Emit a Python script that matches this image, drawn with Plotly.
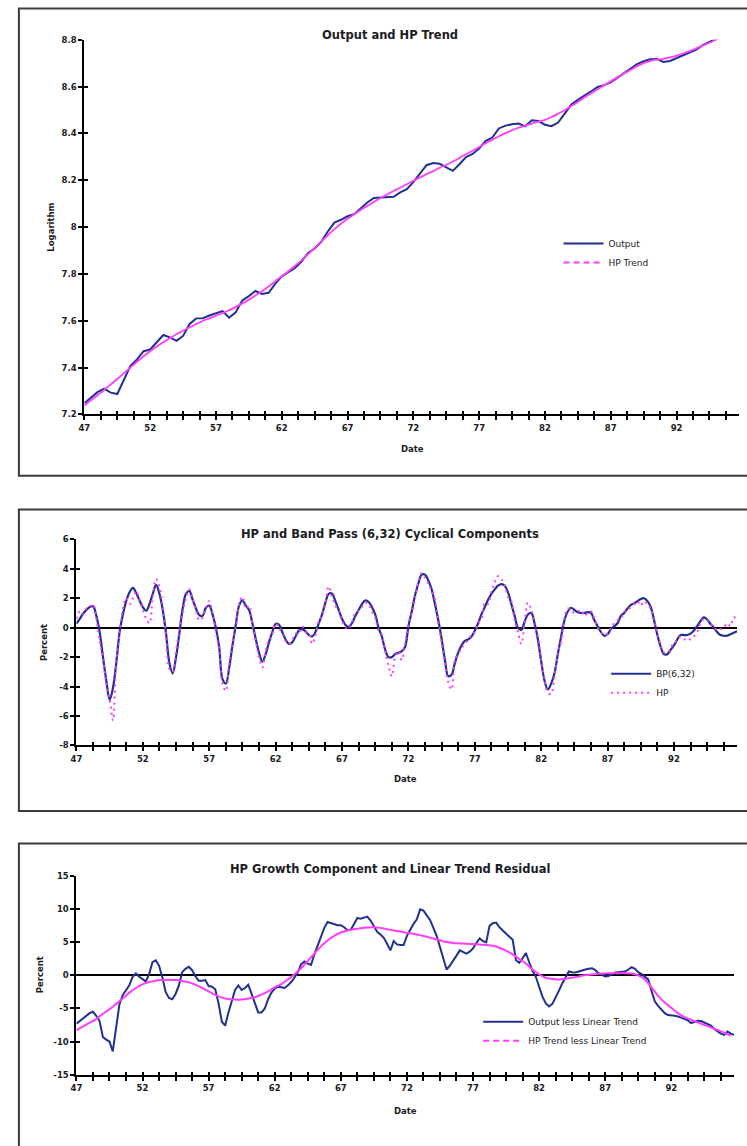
import numpy as np
import plotly.graph_objects as go

W, H = 747, 1146

# ---------------------------------------------------------------- data
quarters = np.arange(1947, 1997, 0.25)    # 1947Q1 .. 1996Q4
half_years = np.arange(1947, 1997, 0.5)   # semiannual sampling

# log real output and its HP trend (semiannual)
log_output = [
    7.248, 7.272, 7.295, 7.310, 7.293, 7.287, 7.348, 7.407, 7.435, 7.470,
    7.477, 7.510, 7.539, 7.529, 7.514, 7.535, 7.586, 7.610, 7.611, 7.622,
    7.630, 7.641, 7.613, 7.636, 7.687, 7.705, 7.727, 7.714, 7.719, 7.757,
    7.789, 7.806, 7.825, 7.853, 7.889, 7.908, 7.937, 7.981, 8.019, 8.031,
    8.046, 8.055, 8.081, 8.105, 8.124, 8.126, 8.127, 8.129, 8.148, 8.162,
    8.192, 8.229, 8.264, 8.273, 8.270, 8.255, 8.240, 8.268, 8.299, 8.312,
    8.335, 8.368, 8.382, 8.421, 8.433, 8.439, 8.442, 8.430, 8.456, 8.453,
    8.437, 8.431, 8.446, 8.484, 8.523, 8.543, 8.560, 8.579, 8.598, 8.606,
    8.618, 8.638, 8.657, 8.675, 8.696, 8.708, 8.716, 8.718, 8.705, 8.709,
    8.721, 8.735, 8.748, 8.758, 8.777, 8.792, 8.804, 8.811, 8.821, 8.841,
]
hp_trend = [
    7.238, 7.260, 7.282, 7.304, 7.328, 7.351, 7.375, 7.400, 7.425, 7.448,
    7.470, 7.490, 7.508, 7.525, 7.542, 7.557, 7.572, 7.586, 7.599, 7.610,
    7.622, 7.632, 7.645, 7.659, 7.674, 7.690, 7.708, 7.726, 7.746, 7.768,
    7.790, 7.811, 7.834, 7.858, 7.884, 7.911, 7.938, 7.965, 7.991, 8.014,
    8.035, 8.054, 8.073, 8.090, 8.107, 8.124, 8.139, 8.154, 8.168, 8.183,
    8.197, 8.212, 8.226, 8.239, 8.253, 8.266, 8.280, 8.295, 8.311, 8.326,
    8.342, 8.358, 8.373, 8.388, 8.401, 8.413, 8.424, 8.433, 8.442, 8.450,
    8.458, 8.470, 8.484, 8.499, 8.517, 8.534, 8.553, 8.571, 8.588, 8.605,
    8.622, 8.639, 8.655, 8.671, 8.687, 8.700, 8.710, 8.715, 8.718, 8.724,
    8.732, 8.741, 8.751, 8.763, 8.775, 8.787, 8.800, 8.812, 8.825, 8.836,
]

# band-pass (6,32) and HP cyclical components, percent (quarterly)
bp_cycle = [
    0.27, 0.6, 0.95, 1.2,    1.4, 1.45, 0.8, -0.3,     -2.0, -3.6, -4.9, -4.1,
    -2.4, -0.3, 0.9, 1.8,    2.4, 2.7, 2.35, 1.85,     1.4, 1.15, 1.6, 2.3,
    2.9, 2.3, 1.2, -0.4,     -2.4, -3.1, -2.0, -0.4,   1.3, 2.3, 2.5, 1.9,
    1.3, 0.85, 0.8, 1.35,    1.5, 0.9, 0.0, -1.3,      -3.5, -3.8, -2.75, -1.2,
    0.2, 1.5, 1.85, 1.5,     1.2, 0.3, -0.75, -1.7,    -2.3, -1.8, -1.0, -0.3,
    0.25, 0.2, -0.3, -0.8,   -1.1, -1.0, -0.6, -0.2,   -0.1, -0.25, -0.5, -0.6,
    -0.3, 0.3, 0.9, 1.7,     2.3, 2.3, 1.8, 1.2,       0.6, 0.2, 0.05, 0.3,
    0.8, 1.2, 1.6, 1.85,     1.75, 1.4, 0.9, 0.0,      -0.6, -1.5, -2.0, -2.0,
    -1.8, -1.7, -1.6, -1.3,  0.1, 1.1, 2.2, 3.0,       3.6, 3.6, 3.2, 2.6,
    1.6, 0.5, -0.75, -2.2,   -3.3, -3.2, -2.4, -1.7,   -1.2, -0.9, -0.8, -0.6,
    -0.2, 0.3, 0.9, 1.4,     1.9, 2.3, 2.6, 2.85,      2.95, 2.85, 2.4, 1.6,
    0.8, 0.0, -0.15, 0.4,    0.9, 1.0, 0.3, -0.8,      -2.3, -3.6, -4.2, -3.8,
    -3.1, -1.8, -0.6, 0.5,   1.1, 1.35, 1.2, 1.05,     1.0, 1.0, 1.05, 1.0,
    0.5, 0.1, -0.3, -0.55,   -0.45, -0.1, 0.1, 0.3,    0.8, 1.0, 1.3, 1.55,
    1.65, 1.8, 1.95, 2.0,    1.8, 1.4, 0.5, -0.5,      -1.3, -1.8, -1.8, -1.5,
    -1.2, -0.8, -0.5, -0.5,  -0.5, -0.4, -0.2, 0.1,    0.45, 0.7, 0.55, 0.25,
    0.0, -0.3, -0.5, -0.55,  -0.55, -0.45, -0.35, -0.25,
]
hp_cycle = [
    0.6, 1.1, 0.9, 1.3,      1.4, 1.6, 0.6, -0.9,      -2.1, -3.8, -4.8, -6.3,
    -2.3, -0.5, 1.3, 2.0,    1.6, 2.0, 2.5, 1.9,       1.2, 0.6, 0.3, 2.2,
    3.3, 2.8, 1.4, -0.6,     -2.8, -3.0, -1.6, -0.2,   1.0, 2.0, 2.6, 1.9,
    1.2, 0.5, 0.7, 1.4,      1.8, 1.0, -0.3, -1.5,     -3.8, -4.3, -2.5, -1.0,
    0.0, 1.6, 2.1, 1.3,      1.5, 0.2, -0.9, -2.0,     -2.7, -1.6, -0.8, -0.4,
    0.3, 0.0, -0.4, -0.9,    -1.1, -0.8, -0.4, -0.4,   0.1, -0.3, -0.4, -1.1,
    -0.5, 0.4, 0.8, 1.7,     2.8, 2.1, 1.5, 1.1,       0.5, 0.0, -0.1, 0.4,
    1.0, 1.2, 1.4, 1.7,      1.6, 1.1, 0.7, -0.2,      -0.5, -1.6, -2.6, -3.3,
    -2.0, -1.6, -2.2, -1.1,  0.2, 1.0, 2.0, 3.1,       3.7, 3.4, 3.0, 2.5,
    1.9, 0.4, -1.0, -2.4,    -3.7, -4.2, -2.2, -1.8,   -1.4, -1.1, -0.8, -0.5,
    -0.3, 0.3, 0.6, 1.7,     1.6, 2.5, 3.1, 3.5,       3.3, 2.9, 2.1, 1.8,
    0.5, -0.3, -1.1, 0.3,    1.7, 1.2, 0.1, -0.6,      -2.2, -3.5, -4.4, -4.5,
    -3.2, -1.8, -0.9, 0.6,   1.3, 1.2, 1.0, 1.1,       1.2, 0.8, 1.0, 1.1,
    0.6, 0.0, -0.3, -0.5,    -0.4, 0.0, 0.3, 0.5,      0.6, 1.1, 1.2, 1.4,
    1.6, 1.8, 1.5, 1.8,      1.6, 1.3, 0.4, -0.4,      -1.2, -1.7, -1.7, -1.4,
    -1.0, -0.9, -0.6, -0.8,  -0.7, -0.8, -0.6, -0.3,   0.3, 0.6, 0.5, 0.2,
    0.1, -0.2, -0.1, 0.0,    0.3, 0.1, 0.7, 0.6,
]

# deviations from a linear time trend, percent
output_less_linear = [
    -7.3, -6.9, -6.5, -6.2,  -5.7, -5.5, -6.1, -6.9,   -9.3, -9.7, -10.0, -11.5,
    -7.6, -4.4, -3.0, -2.2,  -1.5, -0.2, 0.3, -0.2,    -0.6, -0.9, 0.2, 2.0,
    2.3, 1.5, -0.3, -2.5,    -3.4, -3.6, -2.8, -1.5,   0.5, 1.0, 1.3, 0.8,
    -0.1, -0.8, -0.8, -0.7,  -1.6, -1.7, -2.1, -4.2,   -7.0, -7.6, -5.6, -3.9,
    -2.2, -1.5, -2.2, -1.9,  -1.4, -2.8, -4.3, -5.6,   -5.6, -5.0, -3.6, -2.6,
    -2.0, -1.7, -1.8, -1.9,  -1.5, -1.0, -0.3, 0.5,    1.7, 2.1, 1.8, 1.6,
    3.2, 4.6, 5.9, 7.2,      8.1, 7.9, 7.7, 7.6,       7.6, 7.3, 6.85, 6.9,
    7.8, 8.7, 8.6, 8.7,      8.9, 8.3, 7.5, 6.6,       6.2, 5.7, 4.8, 3.8,
    5.2, 4.7, 4.6, 4.6,      6.0, 7.0, 7.8, 8.5,       10.0, 9.8, 9.1, 8.4,
    7.2, 6.0, 4.3, 2.5,      0.9, 1.5, 2.2, 3.0,       3.8, 3.5, 3.3, 3.6,
    4.1, 4.9, 5.6, 5.2,      5.0, 7.5, 7.9, 8.0,       7.3, 6.8, 6.3, 5.9,
    5.4, 2.3, 1.9, 2.6,      3.4, 2.0, 0.7, -0.2,      -1.9, -3.2, -4.2, -4.7,
    -4.3, -3.4, -2.3, -1.2,  -0.3, 0.6, 0.5, 0.45,     0.6, 0.8, 0.9, 1.0,
    1.1, 0.8, 0.35, 0.1,     -0.15, -0.1, 0.2, 0.45,   0.5, 0.6, 0.6, 0.9,
    1.25, 1.0, 0.5, 0.2,     -0.2, -0.6, -2.3, -3.9,   -4.6, -5.2, -5.7, -6.0,
    -6.0, -6.1, -6.2, -6.4,  -6.5, -6.8, -7.2, -7.0,   -6.85, -6.9, -7.1, -7.3,
    -7.6, -8.1, -8.5, -8.8,  -9.0, -8.5, -8.8, -9.0,
]
hp_less_linear = [
    -8.3, -7.7, -7.15, -6.6, -5.8, -5.1, -4.3, -3.5, -2.6, -1.9,
    -1.35, -1.0, -0.8, -0.7, -0.65, -0.7, -0.85, -1.05, -1.4, -1.9,
    -2.4, -2.95, -3.35, -3.55, -3.65, -3.65, -3.5, -3.3, -2.9, -2.4,
    -1.8, -1.3, -0.6, 0.2, 1.1, 2.2, 3.3, 4.4, 5.3, 6.0,
    6.5, 6.8, 7.0, 7.15, 7.25, 7.3, 7.2, 7.0, 6.8, 6.65,
    6.45, 6.3, 6.1, 5.85, 5.6, 5.3, 5.05, 4.9, 4.85, 4.8,
    4.75, 4.7, 4.6, 4.5, 4.2, 3.75, 3.2, 2.5, 1.8, 0.9,
    0.15, -0.35, -0.55, -0.6, -0.5, -0.35, -0.15, 0.05, 0.15, 0.25,
    0.3, 0.35, 0.35, 0.35, 0.3, 0.0, -0.6, -1.8, -3.1, -4.1,
    -4.9, -5.7, -6.3, -6.7, -7.1, -7.5, -7.85, -8.25, -8.65, -9.1,
]

# axis ticks: a tick every five quarters, a label every five years
tick_dates = np.arange(1947, 1997, 1.25)
tick_text = [f"{int(round(d)) % 100}" if i % 4 == 0 else "" for i, d in enumerate(tick_dates)]

p1_ticks = [7.2, 7.4, 7.6, 7.8, 8.0, 8.2, 8.4, 8.6, 8.8]
p1_text = ["7.2", "7.4", "7.6", "7.8", "8", "8.2", "8.4", "8.6", "8.8"]
p2_ticks = [-8, -6, -4, -2, 0, 2, 4, 6]
p2_text = ["-8", "-6", "-4", "-2", "0", "2", "4", "6"]
p3_ticks = [-15, -10, -5, 0, 5, 10, 15]
p3_text = ["-15", "-10", "-5", "0", "5", "10", "15"]

# ---------------------------------------------------------------- style
FONT = "DejaVu Sans"
INK = "#1b1b24"
NAVY = "#22308f"
MAGENTA = "#ff3cff"
X_RANGE = [1947, 1996.75]


def px(x):
    return x / W


def py(y):
    return 1 - y / H


def x_axis(domain, anchor):
    return dict(domain=domain, anchor=anchor, range=X_RANGE, tickmode="array",
                tickvals=tick_dates, ticktext=tick_text, ticks="outside", ticklen=4,
                tickwidth=1.6, tickcolor="black", showline=True, linecolor="black",
                linewidth=2, showgrid=False, zeroline=False,
                tickfont=dict(family=FONT, size=8.5, color=INK, weight="bold"))


def y_axis(domain, anchor, rng, vals, text, zero):
    return dict(domain=domain, anchor=anchor, range=rng, tickmode="array",
                tickvals=vals, ticktext=text, ticks="outside", ticklen=4,
                tickwidth=1.6, tickcolor="black", showline=True, linecolor="black",
                linewidth=2, showgrid=False, zeroline=zero, zerolinecolor="black",
                zerolinewidth=1.6,
                tickfont=dict(family=FONT, size=8.5, color=INK, weight="bold"))


def inner_x(over, anchor):
    # second copy of an x axis: draws the inner half of the crossing ticks
    return dict(overlaying=over, anchor=anchor, range=X_RANGE, tickmode="array",
                tickvals=tick_dates, ticks="inside", ticklen=3, tickwidth=1.6,
                tickcolor="black", showticklabels=False, showline=False,
                showgrid=False, zeroline=False)


def inner_y(over, anchor, rng, vals):
    return dict(overlaying=over, anchor=anchor, range=rng, tickmode="array",
                tickvals=vals, ticks="inside", ticklen=4, tickwidth=1.6,
                tickcolor="black", showticklabels=False, showline=False,
                showgrid=False, zeroline=False)


fig = go.Figure()

# ---- panel 1: output and HP trend
fig.add_trace(go.Scatter(x=half_years, y=log_output, mode="lines", name="Output",
                         line=dict(color=NAVY, width=2), xaxis="x", yaxis="y",
                         legend="legend"))
fig.add_trace(go.Scatter(x=half_years, y=hp_trend, mode="lines", name="HP Trend",
                         line=dict(color=MAGENTA, width=1.8, shape="spline"),
                         xaxis="x", yaxis="y", showlegend=False))
# legend key for the trend (dashed), kept on the tick-overlay axes
fig.add_trace(go.Scatter(x=[None], y=[None], mode="lines", name="HP Trend",
                         line=dict(color=MAGENTA, width=2, dash="6px,4px"),
                         xaxis="x4", yaxis="y4", legend="legend", hoverinfo="skip"))

# ---- panel 2: cyclical components
fig.add_trace(go.Scatter(x=quarters, y=bp_cycle, mode="lines", name="BP(6,32)",
                         line=dict(color=NAVY, width=2.2, shape="spline"),
                         xaxis="x2", yaxis="y2", legend="legend2"))
fig.add_trace(go.Scatter(x=quarters, y=hp_cycle, mode="lines", name="HP",
                         line=dict(color=MAGENTA, width=2, dash="2px,4px", shape="spline"),
                         xaxis="x2", yaxis="y2", legend="legend2"))
# empty holder so the tick-overlay axes of this panel get drawn
fig.add_trace(go.Scatter(x=[None], y=[None], mode="lines", xaxis="x5", yaxis="y5",
                         showlegend=False, hoverinfo="skip"))

# ---- panel 3: deviations from linear trend
fig.add_trace(go.Scatter(x=quarters, y=output_less_linear, mode="lines",
                         name="Output less Linear Trend",
                         line=dict(color=NAVY, width=2), xaxis="x3", yaxis="y3",
                         legend="legend3"))
fig.add_trace(go.Scatter(x=half_years, y=hp_less_linear, mode="lines",
                         name="HP Trend less Linear Trend",
                         line=dict(color=MAGENTA, width=2, shape="spline"),
                         xaxis="x3", yaxis="y3", showlegend=False))
fig.add_trace(go.Scatter(x=[None], y=[None], mode="lines",
                         name="HP Trend less Linear Trend",
                         line=dict(color=MAGENTA, width=2, dash="6px,4px"),
                         xaxis="x6", yaxis="y6", legend="legend3", hoverinfo="skip"))

legend_style = dict(xanchor="left", yanchor="top", bgcolor="rgba(0,0,0,0)",
                    borderwidth=0, itemwidth=40, tracegroupgap=0,
                    font=dict(family=FONT, size=9, color=INK))

fig.update_layout(
    width=W, height=H, margin=dict(l=0, r=0, t=0, b=0),
    paper_bgcolor="white", plot_bgcolor="white",
    xaxis=x_axis([px(79), px(739)], "y"),
    yaxis=y_axis([py(413), py(35)], "x", [7.2, 8.8], p1_ticks, p1_text, False),
    xaxis2=x_axis([px(71), px(737)], "y2"),
    yaxis2=y_axis([py(747), py(539)], "x2", [-8, 6], p2_ticks, p2_text, True),
    xaxis3=x_axis([px(71), px(734)], "y3"),
    yaxis3=y_axis([py(1079), py(879)], "x3", [-15, 15], p3_ticks, p3_text, True),
    xaxis4=inner_x("x", "y"),
    yaxis4=inner_y("y", "x", [7.2, 8.8], p1_ticks),
    xaxis5=inner_x("x2", "y2"),
    yaxis5=inner_y("y2", "x2", [-8, 6], p2_ticks),
    xaxis6=inner_x("x3", "y3"),
    yaxis6=inner_y("y3", "x3", [-15, 15], p3_ticks),
    legend=dict(legend_style, x=px(557), y=py(226)),
    legend2=dict(legend_style, x=px(605), y=py(660)),
    legend3=dict(legend_style, x=px(476), y=py(1011)),
    showlegend=True,
)

# panel frames (open to the right, and at the bottom of the last one)
for top, bottom in [(3.5, 475), (509, 813), (846, 1170)]:
    fig.add_shape(type="rect", xref="paper", yref="paper",
                  x0=px(13), x1=px(770), y0=py(bottom), y1=py(top),
                  line=dict(color="#3c3c3c", width=2), fillcolor="rgba(0,0,0,0)",
                  layer="below")

titles = [
    ("Output and HP Trend", 387, 30),
    ("HP and Band Pass (6,32) Cyclical Components", 387, 534),
    ("HP Growth Component and Linear Trend Residual", 387, 872),
]
for text, x, y in titles:
    fig.add_annotation(text=f"<b>{text}</b>", x=px(x), y=py(y), xref="paper",
                       yref="paper", showarrow=False, xanchor="center",
                       yanchor="middle", font=dict(family=FONT, size=11.5, color=INK))

axis_titles = [
    ("Date", 410, 448, 0),
    ("Date", 403, 781, 0),
    ("Date", 403, 1116, 0),
    ("Logarithm", 45, 224, -90),
    ("Percent", 39, 643, -90),
    ("Percent", 35, 978, -90),
]
for text, x, y, angle in axis_titles:
    fig.add_annotation(text=f"<b>{text}</b>", x=px(x), y=py(y), xref="paper",
                       yref="paper", showarrow=False, xanchor="center",
                       yanchor="middle", textangle=angle,
                       font=dict(family=FONT, size=8.5, color=INK))

fig.write_html("out.html")
